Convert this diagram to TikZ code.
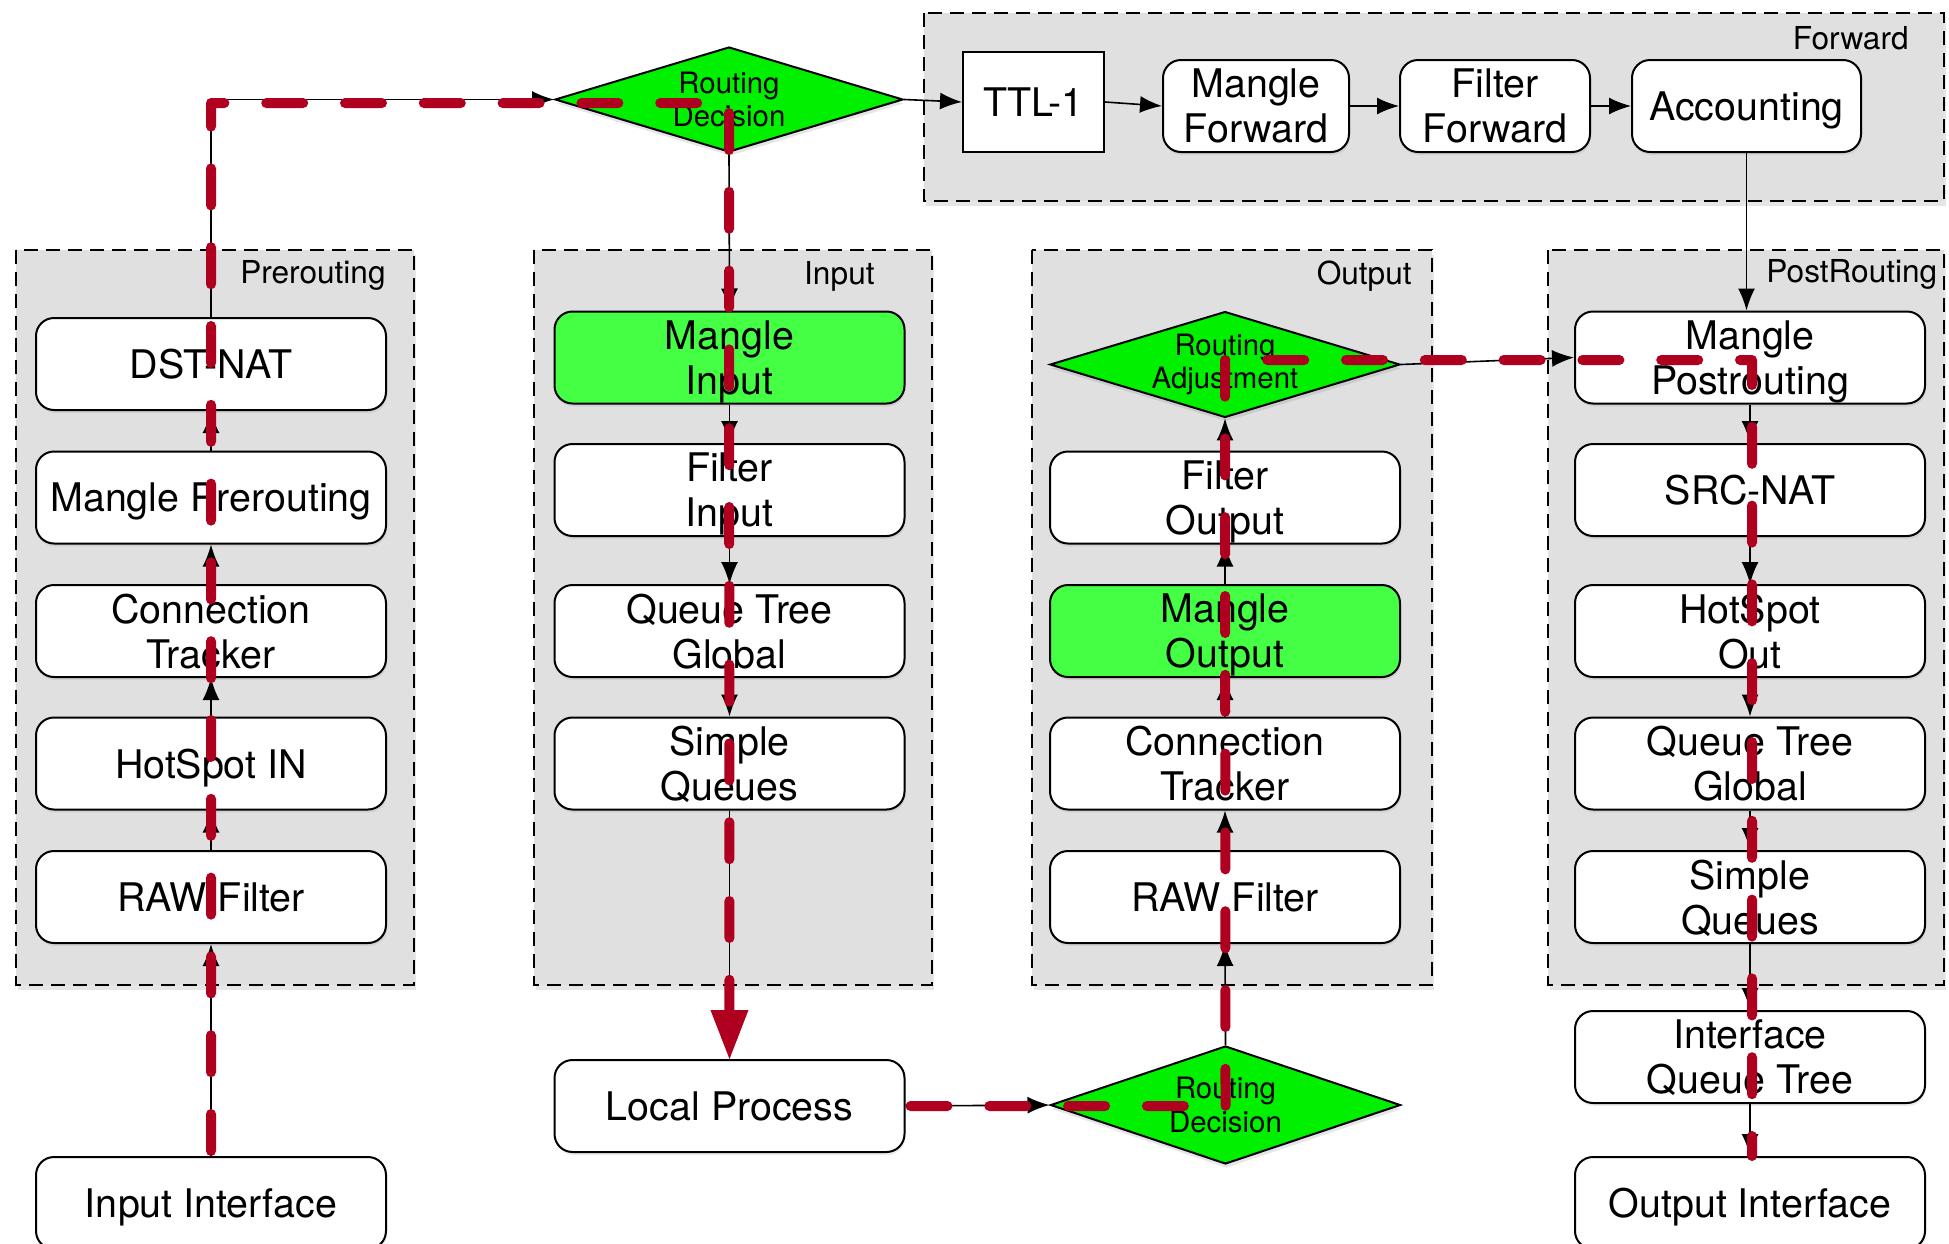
\documentclass[tikz,border=0pt]{standalone}
\usepackage{fontspec}
\setmainfont{TeX Gyre Heros}
\usetikzlibrary{arrows.meta,shapes.geometric,shadows}
\definecolor{boxgray}{RGB}{224,224,224}
\definecolor{dgreen}{RGB}{0,240,0}
\definecolor{lgreen}{RGB}{68,255,68}
\definecolor{pathred}{RGB}{176,0,32}
\newcommand\nodefnt{\fontsize{19.7pt}{22.5pt}\selectfont}
\newcommand\diafnt{\fontsize{14.7pt}{16.8pt}\selectfont}
\newcommand\grpfnt{\fontsize{15.8pt}{18pt}\selectfont}
\tikzset{
  container/.style={draw=black, fill=boxgray, line width=0.75pt, dash pattern=on 7pt off 4pt,
    drop shadow={shadow xshift=1pt, shadow yshift=-2.5pt, opacity=0.2}},
  grouplabel/.style={inner sep=0pt, font=\grpfnt},
  stepbox/.style={draw, line width=1pt, fill=white, rounded corners=9pt,
    minimum width=175pt, minimum height=46pt, inner sep=0pt, align=center, font=\nodefnt,
    text depth=0pt,
    drop shadow={shadow xshift=0.5pt, shadow yshift=-1.5pt, opacity=0.15}},
  greenbox/.style={stepbox, fill=lgreen},
  decision/.style={diamond, draw, line width=1pt, fill=dgreen, aspect=3.3, inner sep=0pt,
    minimum width=175pt, minimum height=52.5pt, align=center, font=\diafnt,
    drop shadow={shadow xshift=0.5pt, shadow yshift=-2pt, opacity=0.2}},
  ttlbox/.style={draw, line width=1pt, fill=white, minimum width=70.5pt, minimum height=50pt,
    inner sep=0pt, font=\nodefnt},
  conn/.style={draw=black, line width=0.8pt, -{Latex[length=11pt,width=8.5pt]}},
  redpath/.style={draw=pathred, line width=5pt, line cap=round, line join=round,
    dash pattern=on 18.5pt off 20.9pt, dash phase=36.9pt},
}
\begin{document}
\begin{tikzpicture}[x=0.5pt,y=-0.5pt]
\useasboundingbox (0,0) rectangle (1949,1243);

% containers
\draw[container] (16,250) rectangle (414,985);
\draw[container] (534,250) rectangle (932,985);
\draw[container] (1032,250) rectangle (1432,985);
\draw[container] (1548,250) rectangle (1944,985);
\draw[container] (924,13) rectangle (1944,201);

\node[grouplabel, anchor=base east] (lpre) at (386,283) {Prerouting};
\node[grouplabel, anchor=base east] (linp) at (875,284) {Input};
\node[grouplabel, anchor=base east] (lout) at (1412,284) {Output};
\begin{scope}
\clip (1548,250) rectangle (1944,985);
\node[grouplabel, anchor=base west] (lpost) at (1766,282) {PostRouting};
\end{scope}
\node[grouplabel, anchor=base east] (lfwd) at (1909,49) {Forward};

% prerouting column
\node[stepbox] (dst)  at (211,364)   {DST-NAT};
\node[stepbox] (mpre) at (211,497.5) {Mangle Prerouting};
\node[stepbox] (ct1)  at (211,631)   {Connection\\Tracker};
\node[stepbox] (hsin) at (211,763.5) {HotSpot IN};
\node[stepbox] (raw1) at (211,897)   {RAW Filter};
\node[stepbox] (iif)  at (211,1203)  {Input Interface};

% input column
\node[greenbox] (min)  at (729.5,357.5) {Mangle\\Input};
\node[stepbox]  (fin)  at (729.5,490)   {Filter\\Input};
\node[stepbox]  (qtg1) at (729.5,631)   {Queue Tree\\Global};
\node[stepbox]  (sq1)  at (729.5,763.5) {Simple\\Queues};
\node[stepbox]  (lp)   at (729.5,1106)  {Local Process};

% output column
\node[decision] (radj) at (1225,364.5) {Routing\\Adjustment};
\node[stepbox]  (fout) at (1225,497.5) {Filter\\Output};
\node[greenbox] (mout) at (1225,631)   {Mangle\\Output};
\node[stepbox]  (ct2)  at (1225,763.5) {Connection\\Tracker};
\node[stepbox]  (raw2) at (1225,897)   {RAW Filter};
\node[decision, minimum height=59pt] (rd2) at (1225.5,1105) {Routing\\Decision};

% postrouting column
\node[stepbox] (mpost) at (1750,357.5) {Mangle\\Postrouting};
\node[stepbox] (src)   at (1750,490)   {SRC-NAT};
\node[stepbox] (hsout) at (1750,631)   {HotSpot\\Out};
\node[stepbox] (qtg2)  at (1750,763.5) {Queue Tree\\Global};
\node[stepbox] (sq2)   at (1750,897)   {Simple\\Queues};
\node[stepbox] (iqt)   at (1750,1057)  {Interface\\Queue Tree};
\node[stepbox] (oif)   at (1750,1203)  {Output Interface};

% top row
\node[decision, minimum width=174pt] (rd1) at (729,99.5) {Routing\\Decision};
\node[ttlbox] (ttl) at (1033.5,102) {TTL-1};
\node[stepbox, minimum width=93pt]  (mfwd) at (1256,106)   {Mangle\\Forward};
\node[stepbox, minimum width=95pt]  (ffwd) at (1495,106)   {Filter\\Forward};
\node[stepbox, minimum width=114.5pt] (acc) at (1746.5,106) {Accounting};

% corners of the red path
\coordinate (rtop1) at (211,103);
\coordinate (rtop2) at (729,103);
\coordinate (radjc) at (1225,360);
\coordinate (rpostc) at (1752,360);

% black connectors
\draw[conn] (iif) -- (raw1);
\draw[conn] (raw1) -- (hsin);
\draw[conn] (hsin) -- (ct1);
\draw[conn] (ct1) -- (mpre);
\draw[conn] (mpre) -- (dst);
\draw[conn] (dst.north) |- (rd1.west);
\draw[conn] (rd1.south) -- (min.north);
\draw[conn] (rd1.east) -- (ttl.west);
\draw[conn] (ttl.east) -- (mfwd.west);
\draw[conn] (mfwd.east) -- (ffwd.west);
\draw[conn] (ffwd.east) -- (acc.west);
\draw[conn] (acc.south) -- (acc.south |- mpost.north);
\draw[conn] (min) -- (fin);
\draw[conn] (fin) -- (qtg1);
\draw[conn] (qtg1) -- (sq1);
\draw[conn] (sq1) -- (lp);
\draw[conn] (lp.east) -- (rd2.west);
\draw[conn] (rd2.north) -- (raw2.south);
\draw[conn] (raw2) -- (ct2);
\draw[conn] (ct2) -- (mout);
\draw[conn] (mout) -- (fout);
\draw[conn] (fout) -- (radj.south);
\draw[conn] (radj.east) -- (mpost.west);
\draw[conn] (mpost) -- (src);
\draw[conn] (src) -- (hsout);
\draw[conn] (hsout) -- (qtg2);
\draw[conn] (qtg2) -- (sq2);
\draw[conn] (sq2) -- (iqt);
\draw[conn] (iqt) -- (oif);

% red packet path
\draw[redpath, -{Triangle[length=24.5pt,width=19pt,line width=0pt]}]
  (iif.north) -- (rtop1) -- (rtop2) -- (lp.north);
\draw[redpath]
  (lp.east) -- (lp.east -| rd2.center) -- (radjc)
  -- (rpostc) -- (rpostc |- oif.north);
\end{tikzpicture}
\end{document}
